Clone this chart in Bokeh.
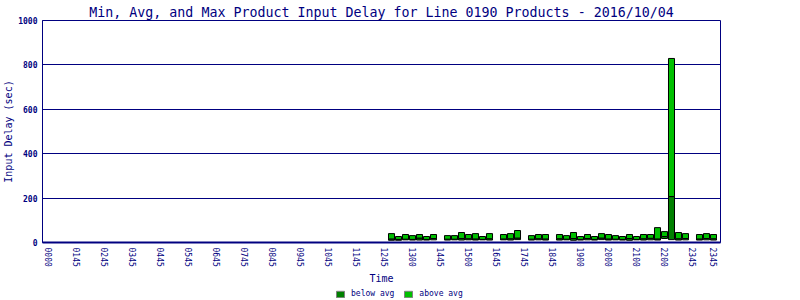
from bokeh.plotting import figure
from bokeh.layouts import column
from bokeh.models import Range1d, FixedTicker, Legend, LegendItem
from bokeh.embed import file_html
from bokeh.resources import INLINE

# ---- data ----
tick_slots = [0, 4, 8, 12, 16, 20, 24, 28, 32, 36, 40, 44, 48, 52, 56, 60,
              64, 68, 72, 76, 80, 84, 88, 92, 95]
tick_labels = ["0000", "0145", "0245", "0345", "0445", "0545", "0645", "0745",
               "0845", "0945", "1045", "1145", "1245", "1300", "1445", "1500",
               "1645", "1745", "1845", "1900", "2000", "2100", "2200", "2345", "2345"]

slots = [49, 50, 51, 52, 53, 54, 55,
         57, 58, 59, 60, 61, 62, 63,
         65, 66, 67,
         69, 70, 71,
         73, 74, 75, 76, 77, 78, 79, 80, 81, 82, 83, 84, 85, 86, 87, 88, 89, 90, 91,
         93, 94, 95]
min_delay = [10, 10, 12, 11, 11, 11, 12,
             11, 12, 11, 12, 11, 12, 11,
             12, 11, 13,
             11, 12, 11,
             11, 12, 10, 11, 12, 11, 13, 11, 12, 11, 10, 12, 11, 12, 11, 18, 13, 11, 12,
             11, 12, 11]
avg_delay = [16, 14, 15, 14, 20, 14, 18,
             15, 15, 18, 17, 16, 14, 17,
             16, 17, 20,
             15, 17, 16,
             17, 15, 18, 14, 18, 14, 20, 16, 15, 14, 18, 14, 17, 19, 16, 27, 207, 17, 18,
             16, 18, 17]
max_delay = [40, 27, 36, 31, 36, 27, 36,
             31, 31, 45, 36, 40, 27, 40,
             36, 40, 54,
             31, 36, 36,
             36, 31, 45, 27, 36, 27, 40, 36, 31, 27, 36, 27, 36, 36, 67, 49, 829, 45, 40,
             36, 40, 36]
legend_labels = ["below avg", "above avg"]

NAVY = "#000080"
DARK = "#008000"
LIGHT = "#00C000"
MONO = "DejaVu Sans Mono"
NAN = float("nan")

p = figure(width=800, height=288, output_backend="svg", toolbar_location=None,
           x_range=Range1d(-0.86, 96.0), y_range=Range1d(0, 1000),
           min_border_left=42, min_border_right=80, min_border_top=20,
           min_border_bottom=46)

p.title.text = "Min, Avg, and Max Product Input Delay for Line 0190 Products - 2016/10/04"
p.title.text_font = MONO
p.title.text_font_size = "13.3px"
p.title.text_font_style = "normal"
p.title.text_color = NAVY
p.title.align = "center"
p.title.standoff = 2

p.vbar(x=slots, bottom=min_delay, top=avg_delay, width=0.86,
       fill_color=DARK, line_color="black", line_width=1)
p.vbar(x=slots, bottom=avg_delay, top=max_delay, width=0.86,
       fill_color=LIGHT, line_color="black", line_width=1)

# x axis
p.xaxis.ticker = FixedTicker(ticks=tick_slots)
p.xaxis.major_label_overrides = {s: l for s, l in zip(tick_slots, tick_labels)}
p.xaxis.major_label_orientation = "vertical"
p.xaxis.axis_label = "Time"
p.xaxis.axis_line_width = 2

# y axis
p.yaxis.ticker = FixedTicker(ticks=[0, 200, 400, 600, 800, 1000])
p.yaxis.axis_label = "Input Delay (sec)"
p.yaxis.major_label_text_font_style = "bold"

for ax in (p.xaxis, p.yaxis):
    ax.axis_line_color = NAVY
    ax.major_tick_line_color = None
    ax.minor_tick_line_color = None
    ax.major_tick_out = 0
    ax.major_tick_in = 0
    ax.major_label_text_font = MONO
    ax.major_label_text_font_size = "8px"
    ax.major_label_text_color = NAVY
    ax.major_label_standoff = 5
    ax.axis_label_text_font = MONO
    ax.axis_label_text_font_size = "10px"
    ax.axis_label_text_font_style = "normal"
    ax.axis_label_text_color = NAVY
    ax.axis_label_standoff = 3

p.yaxis.major_label_standoff = 5
p.yaxis.axis_label_standoff = 1

p.xgrid.grid_line_color = None
p.ygrid.grid_line_color = NAVY
p.ygrid.grid_line_width = 1
p.outline_line_color = NAVY
p.outline_line_width = 1
p.background_fill_color = "white"
p.border_fill_color = "white"

# ---- legend strip below the chart ----
lg = figure(width=800, height=12, output_backend="svg", toolbar_location=None,
            x_range=Range1d(0, 1), y_range=Range1d(0, 1),
            min_border_left=0, min_border_right=0, min_border_top=0,
            min_border_bottom=0)
lg.axis.visible = False
lg.grid.visible = False
lg.outline_line_color = None
r_below = lg.quad(left=[NAN], right=[NAN], top=[NAN], bottom=[NAN],
                  fill_color=DARK, line_color="grey")
r_above = lg.quad(left=[NAN], right=[NAN], top=[NAN], bottom=[NAN],
                  fill_color=LIGHT, line_color="grey")
legend = Legend(items=[LegendItem(label=legend_labels[0], renderers=[r_below]),
                       LegendItem(label=legend_labels[1], renderers=[r_above])],
                orientation="horizontal", location=(293, 2),
                label_text_font=MONO, label_text_font_size="8px",
                label_text_color=NAVY, glyph_width=10, glyph_height=8,
                label_standoff=6, spacing=9, padding=0, margin=0,
                border_line_color=None, background_fill_alpha=0,
                label_height=8)
lg.add_layout(legend, "center")

layout = column(p, lg, spacing=0)
open("out.html", "w").write(file_html(layout, INLINE))
